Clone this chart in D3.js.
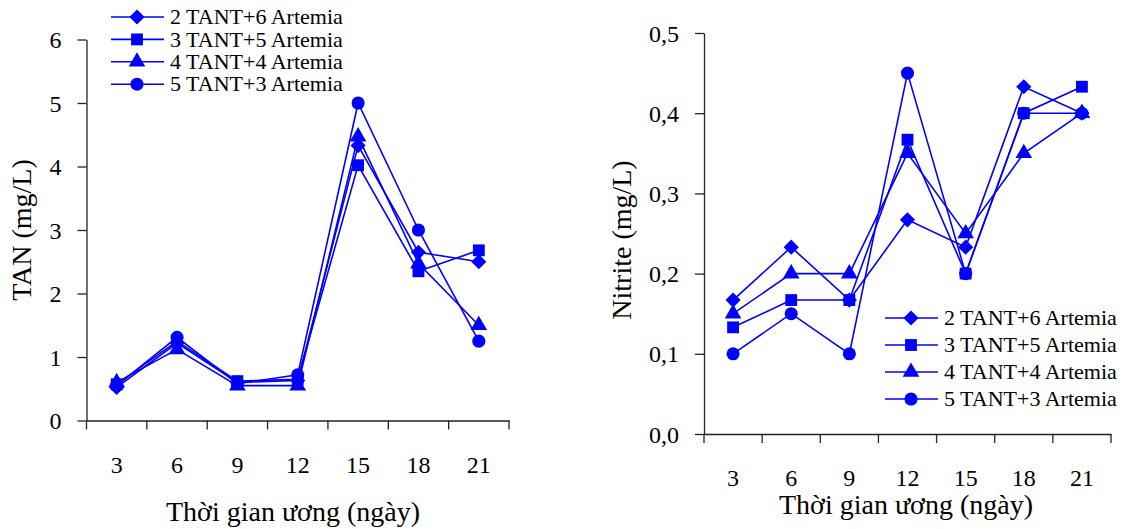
<!DOCTYPE html>
<html lang="vi">
<head>
<meta charset="UTF-8">
<script src="https://cdn.jsdelivr.net/npm/d3@7/dist/d3.min.js"></script>
<style>
  body { margin: 0; background: #fff; }
  svg { display: block; }
  svg text { font-family: "Liberation Serif", "Times New Roman", serif; }
  .axis path, .axis line { stroke: #222; stroke-width: 1.3; }
  .axis text { fill: #000; font-size: 24px; }
</style>
</head>
<body>
<svg id="chart" width="1136" height="529"></svg>
<script>
// days of rearing
var days = [3, 6, 9, 12, 15, 18, 21];
var seriesNames = ["2 TANT+6 Artemia", "3 TANT+5 Artemia", "4 TANT+4 Artemia", "5 TANT+3 Artemia"];

// TAN (mg/L), one array per treatment
var tan2 = [0.52, 1.22, 0.60, 0.63, 4.33, 2.65, 2.50];
var tan3 = [0.57, 1.25, 0.62, 0.65, 4.02, 2.35, 2.68];
var tan4 = [0.60, 1.12, 0.55, 0.55, 4.47, 2.47, 1.50];
var tan5 = [0.55, 1.31, 0.58, 0.72, 5.00, 3.00, 1.25];

// Nitrite (mg/L)
var nit2 = [0.167, 0.233, 0.167, 0.267, 0.233, 0.433, 0.400];
var nit3 = [0.133, 0.167, 0.167, 0.367, 0.200, 0.400, 0.433];
var nit4 = [0.150, 0.200, 0.200, 0.350, 0.250, 0.350, 0.400];
var nit5 = [0.100, 0.150, 0.100, 0.450, 0.200, 0.400, 0.400];

var tanTicks = [0, 1, 2, 3, 4, 5, 6];
var nitTicks = [0, 0.1, 0.2, 0.3, 0.4, 0.5];

var blue = "#0000ff";
var symbols = [
  {type: d3.symbolSquare, size: 115, rotate: 45},   // diamond
  {type: d3.symbolSquare, size: 140, rotate: 0},
  {type: d3.symbolTriangle, size: 120, rotate: 0},
  {type: d3.symbolCircle, size: 135, rotate: 0}
];

var svg = d3.select("#chart");

function drawMarker(g, i, x, y) {
  var s = symbols[i];
  g.append("path")
    .attr("d", d3.symbol().type(s.type).size(s.size)())
    .attr("transform", "translate(" + x + "," + y + ") rotate(" + s.rotate + ")")
    .attr("fill", blue);
}

function panel(opt) {
  var g = svg.append("g");
  var x = d3.scaleBand().domain(days).range([opt.x0, opt.x1]).padding(0);
  var y = d3.scaleLinear().domain(opt.domain).range([opt.y0, opt.y1]);

  // x axis: labels under band centres, ticks on band edges
  var xAxis = g.append("g").attr("class", "axis")
    .attr("transform", "translate(0," + opt.y0 + ")")
    .call(d3.axisBottom(x).tickSize(0).tickSizeOuter(0));
  xAxis.attr("font-family", null).attr("font-size", null);
  xAxis.selectAll("text").attr("y", opt.xLabelY).attr("dy", 0);
  var edges = days.map(function(d) { return x(d); }).concat([opt.x1]);
  xAxis.selectAll(".edge").data(edges).enter().append("line")
    .attr("x1", function(d) { return d; }).attr("x2", function(d) { return d; })
    .attr("y1", 0).attr("y2", 9);

  var yAxis = g.append("g").attr("class", "axis")
    .attr("transform", "translate(" + opt.x0 + ",0)")
    .call(d3.axisLeft(y).tickValues(opt.ticks).tickSize(9).tickSizeOuter(0).tickFormat(opt.fmt));
  yAxis.attr("font-family", null).attr("font-size", null);
  yAxis.selectAll("text").attr("x", opt.yLabelX).attr("dy", "0.34em");

  // axis titles
  g.append("text")
    .attr("x", opt.xTitle[0]).attr("y", opt.xTitle[1])
    .attr("text-anchor", "middle").attr("font-size", 28)
    .text("Thời gian ương (ngày)");
  g.append("text")
    .attr("transform", "translate(" + opt.yTitle[0] + "," + opt.yTitle[1] + ") rotate(-90)")
    .attr("text-anchor", "middle").attr("font-size", 28)
    .text(opt.yLabel);

  var line = d3.line()
    .x(function(d, i) { return x(days[i]) + x.bandwidth() / 2; })
    .y(function(d) { return y(d); });

  opt.series.forEach(function(vals, si) {
    g.append("path").datum(vals)
      .attr("d", line)
      .attr("fill", "none").attr("stroke", blue).attr("stroke-width", 1.6);
    vals.forEach(function(v, i) {
      drawMarker(g, si, x(days[i]) + x.bandwidth() / 2, y(v));
    });
  });

  // legend
  var lg = g.append("g");
  seriesNames.forEach(function(name, i) {
    var ly = opt.legend.y + i * opt.legend.step;
    lg.append("line")
      .attr("x1", opt.legend.x).attr("x2", opt.legend.x + 53)
      .attr("y1", ly).attr("y2", ly)
      .attr("stroke", blue).attr("stroke-width", 1.6);
    drawMarker(lg, i, opt.legend.x + 26, ly);
    lg.append("text")
      .attr("x", opt.legend.x + 59).attr("y", ly).attr("dy", "0.33em")
      .attr("font-size", 22)
      .text(name);
  });
}

panel({
  x0: 86.5, x1: 509, y0: 420.5, y1: 39.5,
  domain: [0, 6], ticks: tanTicks, fmt: d3.format("d"),
  xLabelY: 52, yLabelX: -25,
  xTitle: [293, 521], yTitle: [31, 230], yLabel: "TAN (mg/L)",
  series: [tan2, tan3, tan4, tan5],
  legend: {x: 111, y: 17, step: 22.4}
});

panel({
  x0: 704, x1: 1111, y0: 434, y1: 33,
  domain: [0, 0.5], ticks: nitTicks,
  fmt: function(d) { return d3.format(".1f")(d).replace(".", ","); },
  xLabelY: 52, yLabelX: -25,
  xTitle: [906, 514], yTitle: [631, 240], yLabel: "Nitrite (mg/L)",
  series: [nit2, nit3, nit4, nit5],
  legend: {x: 885, y: 318, step: 27}
});
</script>
</body>
</html>
